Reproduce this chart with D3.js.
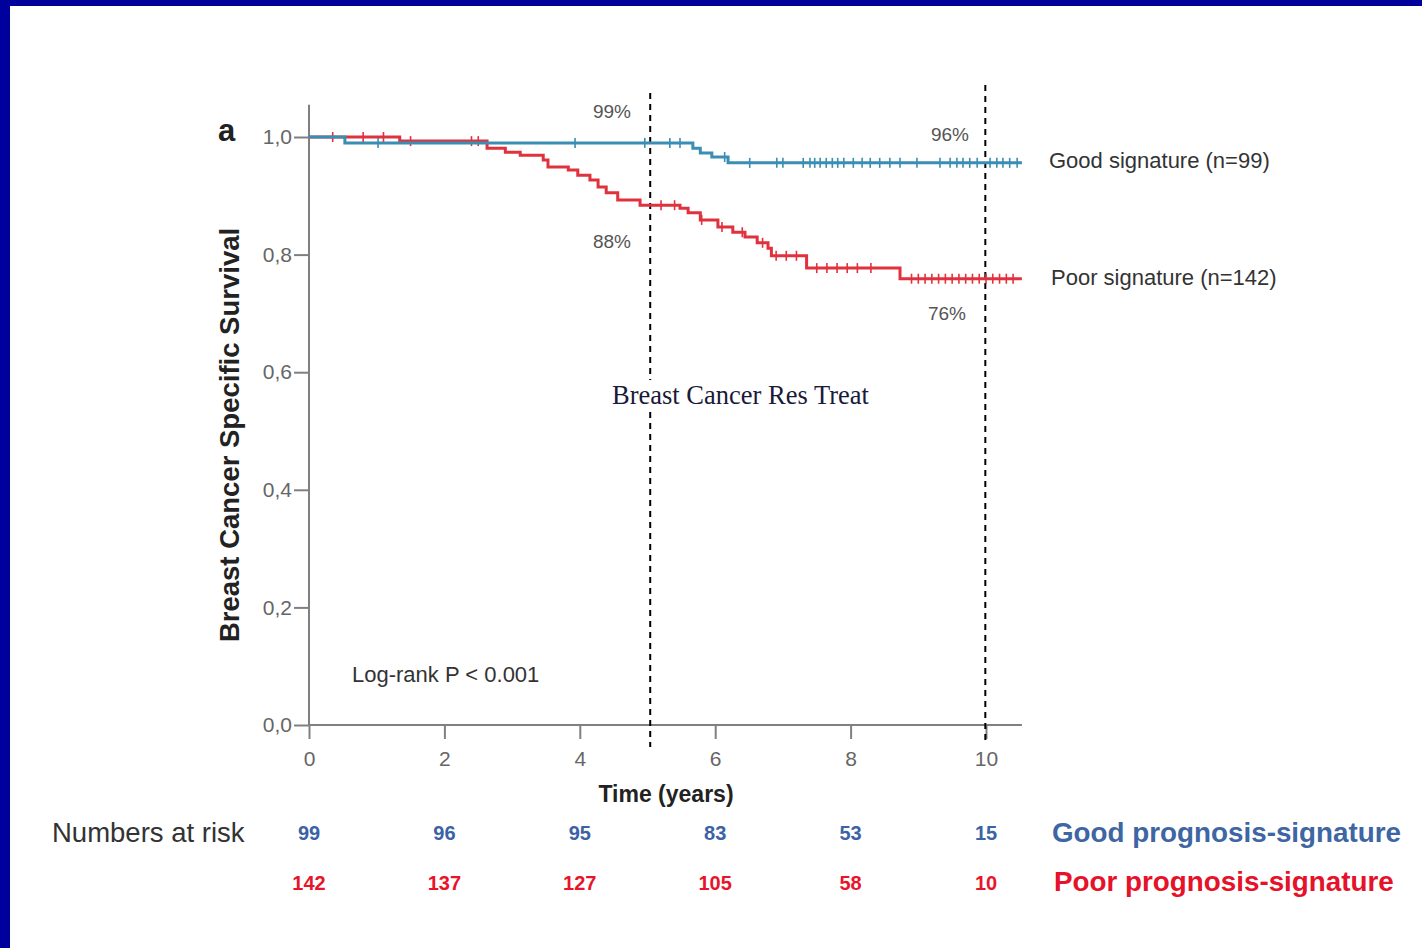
<!DOCTYPE html>
<html><head><meta charset="utf-8">
<script src="https://cdn.jsdelivr.net/npm/d3@7"></script>
<style>
html,body{margin:0;padding:0;background:#fff;}
svg{display:block;}
</style></head>
<body>
<svg id="chart" width="1422" height="948"></svg>
<script>
// ---- data ----
const xTicks = [0, 2, 4, 6, 8, 10];
const yTicks = [0, 0.2, 0.4, 0.6, 0.8, 1.0];
const yTickLabels = ["0,0", "0,2", "0,4", "0,6", "0,8", "1,0"];

// Good signature step curve (time, survival)
const goodTimes = [0, 0.53, 5.67, 5.78, 5.95, 6.19, 10.53];
const goodSurv  = [1.0, 0.99, 0.981, 0.973, 0.966, 0.956, 0.956];
const goodCensor = [1.02, 3.93, 4.96, 5.33, 5.48, 6.14, 6.51, 6.91, 7.0, 7.3, 7.4, 7.47, 7.55, 7.64, 7.73, 7.81, 7.9, 8.04, 8.17, 8.29, 8.43, 8.58, 8.73, 8.98, 9.32, 9.47, 9.57, 9.66, 9.76, 9.87, 10.06, 10.16, 10.25, 10.35, 10.46];

// Poor signature step curve
const poorTimes = [0, 1.34, 2.63, 2.9, 3.12, 3.46, 3.53, 3.83, 3.97, 4.15, 4.27, 4.39, 4.56, 4.89, 5.48, 5.6, 5.78, 6.04, 6.26, 6.44, 6.62, 6.78, 6.83, 7.35, 8.73, 10.53];
const poorSurv  = [1.0, 0.993, 0.981, 0.974, 0.969, 0.961, 0.949, 0.944, 0.935, 0.927, 0.915, 0.905, 0.893, 0.884, 0.879, 0.871, 0.859, 0.847, 0.838, 0.830, 0.820, 0.811, 0.798, 0.777, 0.759, 0.759];
const poorCensor = [0.35, 0.8, 1.1, 1.5, 2.4, 2.5, 5.2, 5.4, 5.8, 6.1, 6.4, 6.7, 6.9, 7.05, 7.2, 7.5, 7.65, 7.8, 7.95, 8.1, 8.3, 8.9, 9.0, 9.1, 9.2, 9.3, 9.4, 9.5, 9.6, 9.7, 9.8, 9.9, 10.0, 10.1, 10.2, 10.3, 10.4];

const riskTimes = [0, 2, 4, 6, 8, 10];
const goodRisk = [99, 96, 95, 83, 53, 15];
const poorRisk = [142, 137, 127, 105, 58, 10];

const refTimes = [5.04, 9.99];
const pctLabels = ["99%", "88%", "96%", "76%"];

// ---- drawing ----
const svg = d3.select("#chart");
const blue = "#3a8db3", red = "#e0323d";
const x = d3.scaleLinear().domain([0, 10]).range([309, 986]);
const y = d3.scaleLinear().domain([0, 1]).range([725, 137]);
const sans = "Liberation Sans, Arial, sans-serif";

// border
svg.append("rect").attr("x", 0).attr("y", 0).attr("width", 1422).attr("height", 6).attr("fill", "#00009c");
svg.append("rect").attr("x", 0).attr("y", 0).attr("width", 10).attr("height", 948).attr("fill", "#00009c");

// axes
const axisCol = "#808080";
const gy = svg.append("g").attr("transform", `translate(${x(0)},0)`)
  .call(d3.axisLeft(y).tickValues(yTicks).tickSize(15).tickPadding(2)
    .tickFormat((d, i) => yTickLabels[i]));
gy.select(".domain").remove();
gy.selectAll(".tick line").attr("stroke", axisCol).attr("stroke-width", 2);
gy.selectAll(".tick text").attr("fill", "#666").style("font-family", sans).style("font-size", "21px");

const gx = svg.append("g").attr("transform", `translate(0,${y(0)})`)
  .call(d3.axisBottom(x).tickValues(xTicks).tickSize(14).tickPadding(12));
gx.select(".domain").remove();
gx.selectAll(".tick line").attr("stroke", axisCol).attr("stroke-width", 2);
gx.selectAll(".tick text").attr("fill", "#666").style("font-family", sans).style("font-size", "21px");

svg.append("line").attr("x1", x(0)).attr("x2", x(0)).attr("y1", y(1.055)).attr("y2", y(0))
  .attr("stroke", axisCol).attr("stroke-width", 2);
svg.append("line").attr("x1", x(0)).attr("x2", x(10.53)).attr("y1", y(0)).attr("y2", y(0))
  .attr("stroke", axisCol).attr("stroke-width", 2);

// reference dashed lines
svg.selectAll(".ref").data(refTimes).enter().append("line")
  .attr("x1", d => x(d)).attr("x2", d => x(d))
  .attr("y1", (d, i) => i === 0 ? 93 : 85).attr("y2", (d, i) => i === 0 ? 747 : 742)
  .attr("stroke", "#000").attr("stroke-width", 2).attr("stroke-dasharray", "6,5");

// curves
const line = d3.line().x(d => x(d[0])).y(d => y(d[1])).curve(d3.curveStepAfter);
function survAt(times, surv, t) {
  let v = surv[0];
  for (let i = 0; i < times.length; i++) if (times[i] <= t) v = surv[i];
  return v;
}
function drawCurve(times, surv, censor, col) {
  const pts = times.map((t, i) => [t, surv[i]]);
  svg.append("path").datum(pts).attr("d", line).attr("fill", "none")
    .attr("stroke", col).attr("stroke-width", 3);
  svg.selectAll(null).data(censor).enter().append("line")
    .attr("x1", d => x(d)).attr("x2", d => x(d))
    .attr("y1", d => y(survAt(times, surv, d)) - 5)
    .attr("y2", d => y(survAt(times, surv, d)) + 5)
    .attr("stroke", col).attr("stroke-width", 1.6);
}
drawCurve(poorTimes, poorSurv, poorCensor, red);
drawCurve(goodTimes, goodSurv, goodCensor, blue);

function txt(xp, yp, s, size, col, opts = {}) {
  return svg.append("text").attr("x", xp).attr("y", yp).text(s)
    .attr("fill", col).style("font-family", opts.family || sans)
    .style("font-size", size + "px").style("font-weight", opts.weight || "normal")
    .attr("text-anchor", opts.anchor || "start");
}

// percentage labels
txt(612, 118, pctLabels[0], 19, "#555", {anchor: "middle"});
txt(612, 248, pctLabels[1], 19, "#555", {anchor: "middle"});
txt(950, 141, pctLabels[2], 19, "#555", {anchor: "middle"});
txt(947, 320, pctLabels[3], 19, "#555", {anchor: "middle"});

// panel label & titles
txt(218, 141, "a", 31, "#222", {weight: "bold"});
svg.append("text").attr("transform", "translate(239,435) rotate(-90)")
  .attr("text-anchor", "middle").text("Breast Cancer Specific Survival")
  .attr("fill", "#222").style("font-family", sans).style("font-size", "27.5px").style("font-weight", "bold");
txt(666, 802, "Time (years)", 23, "#222", {anchor: "middle", weight: "bold"});
txt(352, 682, "Log-rank P < 0.001", 22, "#333");
txt(1049, 168, "Good signature (n=99)", 22, "#333");
txt(1051, 285, "Poor signature (n=142)", 22, "#333");
svg.append("rect").attr("x", 608).attr("y", 380).attr("width", 266).attr("height", 32).attr("fill", "#fff");
txt(612, 404, "Breast Cancer Res Treat", 26.5, "#1a1a3a", {family: "Liberation Serif, Times New Roman, serif"});

// numbers at risk
txt(52, 842, "Numbers at risk", 27.5, "#333");
svg.selectAll(null).data(riskTimes).enter().append("text")
  .attr("x", d => x(d)).attr("y", 840).attr("text-anchor", "middle")
  .text((d, i) => goodRisk[i]).attr("fill", "#3b62a5")
  .style("font-family", sans).style("font-size", "20px").style("font-weight", "bold");
svg.selectAll(null).data(riskTimes).enter().append("text")
  .attr("x", d => x(d)).attr("y", 890).attr("text-anchor", "middle")
  .text((d, i) => poorRisk[i]).attr("fill", "#e8142a")
  .style("font-family", sans).style("font-size", "20px").style("font-weight", "bold");
txt(1052, 842, "Good prognosis-signature", 27.8, "#3d66a3", {weight: "bold"});
txt(1054, 891, "Poor prognosis-signature", 27.8, "#e5122a", {weight: "bold"});
</script>
</body></html>
